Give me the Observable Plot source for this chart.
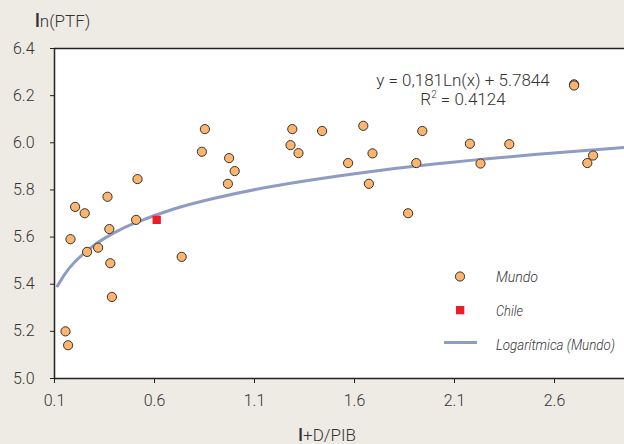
<!DOCTYPE html>
<html>
<head>
<meta charset="utf-8">
<script src="https://cdn.jsdelivr.net/npm/d3@7"></script>
<script src="https://cdn.jsdelivr.net/npm/@observablehq/plot@0.6"></script>
<style>
  html, body { margin: 0; padding: 0; background: #eeebe5; }
  #wrap { position: relative; width: 624px; height: 444px; background: #eeebe5; overflow: hidden; }
  #wrap svg { position: absolute; left: 0; top: 0; }
</style>
</head>
<body>
<div id="wrap"></div>
<script>
// Mundo (world) scatter: x = I+D/PIB, y = ln(PTF)
const mundoX = [0.155, 0.168, 0.180, 0.203, 0.251, 0.263, 0.318, 0.365, 0.374, 0.379, 0.387, 0.508, 0.515,
  0.736, 0.837, 0.852, 0.967, 0.973, 1.001, 1.280, 1.289, 1.320, 1.438, 1.568, 1.644, 1.672, 1.690,
  1.868, 1.909, 1.939, 2.177, 2.230, 2.374, 2.698, 2.698, 2.764, 2.793];
const mundoY = [5.200, 5.141, 5.591, 5.728, 5.701, 5.537, 5.555, 5.771, 5.634, 5.489, 5.346, 5.673, 5.846,
  5.516, 5.962, 6.058, 5.826, 5.935, 5.880, 5.990, 6.058, 5.956, 6.050, 5.914, 6.072, 5.826, 5.955,
  5.701, 5.914, 6.050, 5.996, 5.912, 5.994, 6.248, 6.243, 5.914, 5.946];
// Chile
const chileX = [0.611];
const chileY = [5.673];
// Logarithmic trend (Mundo)
const trendX = [0.115, 0.15, 0.2, 0.3, 0.4, 0.5, 0.7, 0.9, 1.2, 1.6, 2.0, 2.5, 2.95];
const trendY = [5.393, 5.441, 5.493, 5.567, 5.619, 5.659, 5.720, 5.765, 5.817, 5.869, 5.910, 5.950, 5.980];
// Axes
const xTicks = [0.1, 0.6, 1.1, 1.6, 2.1, 2.6];
const yTicks = [5.0, 5.2, 5.4, 5.6, 5.8, 6.0, 6.2, 6.4];
const xDomain = [0.1, 2.95];
const yDomain = [5.0, 6.4];
// Texts
const yTitle = ["l", "n(PTF)"];
const xTitle = ["I", "+D/PIB"];
const eqLine1 = "y = 0,181Ln(x) + 5.7844";
const eqLine2a = "R", eqLine2sup = "2", eqLine2b = " = 0.4124";
const legendLabels = ["Mundo", "Chile", "Logarítmica (Mundo)"];

const mundo = mundoX.map((x, i) => ({x, y: mundoY[i]}));
const chile = chileX.map((x, i) => ({x, y: chileY[i]}));
const trend = trendX.map((x, i) => ({x, y: trendY[i]}));

const FONT = "Roboto, 'Liberation Sans', sans-serif";
const TXT = "#333";
const ORANGE = "#fdb46c";
const RED = "#ee1c25";
const BLUE = "#8e9cc4";

const chart = Plot.plot({
  width: 624,
  height: 444,
  marginLeft: 54,
  marginRight: 0,
  marginTop: 48,
  marginBottom: 66,
  style: {background: "transparent", fontFamily: FONT, fontSize: "16px", fontWeight: 300, color: TXT},
  x: {domain: xDomain},
  y: {domain: yDomain},
  marks: [
    Plot.frame({fill: "white", stroke: null}),
    Plot.axisX({ticks: xTicks, tickSize: 5, tickPadding: 11, label: null, tickFormat: d => d.toFixed(1), stroke: "#222"}),
    Plot.axisY({ticks: yTicks, tickSize: 4, tickPadding: 16, label: null, tickFormat: d => d.toFixed(1), stroke: "#222"}),
    Plot.ruleY([yDomain[1]], {stroke: "#222", strokeWidth: 1.5}),
    Plot.ruleY([yDomain[0]], {stroke: "#222", strokeWidth: 1.5}),
    Plot.ruleX([xDomain[0]], {stroke: "#222", strokeWidth: 1.5}),
    Plot.line(trend, {x: "x", y: "y", stroke: BLUE, strokeWidth: 3, curve: "natural"}),
    Plot.dot(mundo, {x: "x", y: "y", r: 4.6, fill: ORANGE, stroke: "#333", strokeWidth: 1}),
    Plot.dot(chile, {x: "x", y: "y", symbol: "square", r: 4.7, fill: RED, stroke: null})
  ]
});

const wrap = document.getElementById("wrap");
wrap.appendChild(chart);

// Overlay: titles, equation and legend
const ns = "http://www.w3.org/2000/svg";
const ov = d3.create("svg").attr("xmlns", ns).attr("width", 624).attr("height", 444)
  .style("font-family", FONT).style("font-weight", 300).style("pointer-events", "none");
wrap.appendChild(ov.node());

// horizontally condensed text placed with a transform (anchor: start or middle)
function condensed(x, y, text, size, len, anchor, italic) {
  const t = ov.append("text").attr("x", 0).attr("y", 0).attr("fill", TXT)
    .attr("font-size", size).attr("text-anchor", anchor).text(text);
  if (italic) t.attr("font-style", "italic");
  const w = t.node().getComputedTextLength();
  const s = Math.min(1, len / w);
  t.attr("transform", `translate(${x},${y}) scale(${s},1)`);
  return t;
}

// y title
const yt = ov.append("text").attr("x", 35).attr("y", 27).attr("fill", TXT).attr("font-size", 17);
yt.append("tspan").attr("font-size", 19).attr("font-weight", 500).text(yTitle[0]);
yt.append("tspan").text(yTitle[1]);
// x title
const xt = ov.append("text").attr("x", 298).attr("y", 441).attr("fill", TXT).attr("font-size", 17);
xt.append("tspan").attr("font-size", 18).attr("font-weight", 500).text(xTitle[0]);
xt.append("tspan").text(xTitle[1]);

// equation
condensed(463, 86, eqLine1, 17, 174, "middle", false);
const r2 = ov.append("text").attr("x", 463).attr("y", 105).attr("text-anchor", "middle")
  .attr("fill", TXT).attr("font-size", 17);
r2.append("tspan").text(eqLine2a);
r2.append("tspan").attr("font-size", 10).attr("dy", -7).text(eqLine2sup);
r2.append("tspan").attr("dy", 7).text(eqLine2b);

// legend
ov.append("circle").attr("cx", 460).attr("cy", 276.5).attr("r", 4.6)
  .attr("fill", ORANGE).attr("stroke", "#333");
ov.append("rect").attr("x", 456).attr("y", 306).attr("width", 8.3).attr("height", 8.3).attr("fill", RED);
ov.append("line").attr("x1", 444).attr("x2", 477).attr("y1", 342.5).attr("y2", 342.5)
  .attr("stroke", BLUE).attr("stroke-width", 3);
[[281.5, 0, 42], [315.5, 1, 27], [350, 2, 119]].forEach(([y, i, len]) => {
  condensed(496, y, legendLabels[i], 15, len, "start", true);
});
</script>
</body>
</html>
